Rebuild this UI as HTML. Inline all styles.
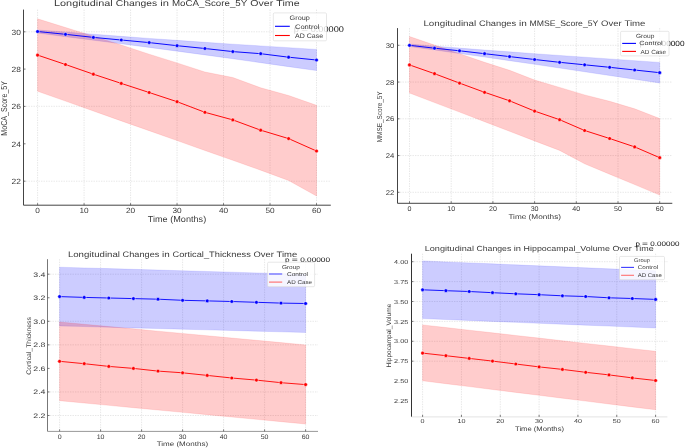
<!DOCTYPE html>
<html><head><meta charset="utf-8"><title>Longitudinal Changes</title>
<style>
html,body{margin:0;padding:0;background:#fff;width:685px;height:448px;overflow:hidden;}
svg{display:block;filter:blur(0.35px);}
text{font-family:"Liberation Sans",sans-serif;text-rendering:geometricPrecision;}
</style></head><body>
<svg width="685" height="448" viewBox="0 0 685 448">
<rect width="685" height="448" fill="#fff"/>
<path d="M37.6 9.6V205.2M84.08 9.6V205.2M130.57 9.6V205.2M177.05 9.6V205.2M223.53 9.6V205.2M270.02 9.6V205.2M316.5 9.6V205.2M23.5 31.8H330.8M23.5 106.3H330.8M23.5 181.2H330.8" stroke="#dfdfdf" stroke-width="0.75" stroke-dasharray="1.4 1.1" fill="none"/>
<polygon points="37.6,30 65.49,32.05 93.38,34.2 121.27,36.35 149.16,38.4 177.05,40.35 204.94,42.3 232.83,44.15 260.72,45.9 288.61,47.65 316.5,49.4 316.5,70.6 288.61,66.65 260.72,62.7 232.83,58.75 204.94,54.9 177.05,51.15 149.16,47.4 121.27,43.75 93.38,40.2 65.49,36.65 37.6,33" fill="#0000ff" fill-opacity="0.2" stroke="#0000ff" stroke-opacity="0.2" stroke-width="0.5"/>
<polygon points="37.6,18.8 65.49,27.5 93.38,36.2 121.27,45 149.16,54.2 177.05,62.9 204.94,72 232.83,77.5 260.72,87.8 288.61,95.5 316.5,105.3 316.5,196 288.61,180.5 260.72,170.2 232.83,160.3 204.94,150.5 177.05,140.6 149.16,130.7 121.27,120.9 93.38,111 65.49,101.1 37.6,91.25" fill="#ff0000" fill-opacity="0.2" stroke="#ff0000" stroke-opacity="0.2" stroke-width="0.5"/>
<polyline points="37.6,31.5 65.49,34.3 93.38,37.4 121.27,40 149.16,42.6 177.05,45.7 204.94,48.5 232.83,51.6 260.72,53.7 288.61,57.2 316.5,60" fill="none" stroke="#0000ff" stroke-width="0.95" stroke-linejoin="round"/>
<circle cx="37.6" cy="31.5" r="1.85" fill="#0000ff" stroke="#fff" stroke-width="0.45"/>
<circle cx="65.49" cy="34.3" r="1.85" fill="#0000ff" stroke="#fff" stroke-width="0.45"/>
<circle cx="93.38" cy="37.4" r="1.85" fill="#0000ff" stroke="#fff" stroke-width="0.45"/>
<circle cx="121.27" cy="40" r="1.85" fill="#0000ff" stroke="#fff" stroke-width="0.45"/>
<circle cx="149.16" cy="42.6" r="1.85" fill="#0000ff" stroke="#fff" stroke-width="0.45"/>
<circle cx="177.05" cy="45.7" r="1.85" fill="#0000ff" stroke="#fff" stroke-width="0.45"/>
<circle cx="204.94" cy="48.5" r="1.85" fill="#0000ff" stroke="#fff" stroke-width="0.45"/>
<circle cx="232.83" cy="51.6" r="1.85" fill="#0000ff" stroke="#fff" stroke-width="0.45"/>
<circle cx="260.72" cy="53.7" r="1.85" fill="#0000ff" stroke="#fff" stroke-width="0.45"/>
<circle cx="288.61" cy="57.2" r="1.85" fill="#0000ff" stroke="#fff" stroke-width="0.45"/>
<circle cx="316.5" cy="60" r="1.85" fill="#0000ff" stroke="#fff" stroke-width="0.45"/>
<polyline points="37.6,55.1 65.49,64.5 93.38,74.2 121.27,83.4 149.16,92.5 177.05,101.7 204.94,112.3 232.83,119.9 260.72,130.2 288.61,138.6 316.5,151" fill="none" stroke="#ff0000" stroke-width="0.95" stroke-linejoin="round"/>
<circle cx="37.6" cy="55.1" r="1.85" fill="#ff0000" stroke="#fff" stroke-width="0.45"/>
<circle cx="65.49" cy="64.5" r="1.85" fill="#ff0000" stroke="#fff" stroke-width="0.45"/>
<circle cx="93.38" cy="74.2" r="1.85" fill="#ff0000" stroke="#fff" stroke-width="0.45"/>
<circle cx="121.27" cy="83.4" r="1.85" fill="#ff0000" stroke="#fff" stroke-width="0.45"/>
<circle cx="149.16" cy="92.5" r="1.85" fill="#ff0000" stroke="#fff" stroke-width="0.45"/>
<circle cx="177.05" cy="101.7" r="1.85" fill="#ff0000" stroke="#fff" stroke-width="0.45"/>
<circle cx="204.94" cy="112.3" r="1.85" fill="#ff0000" stroke="#fff" stroke-width="0.45"/>
<circle cx="232.83" cy="119.9" r="1.85" fill="#ff0000" stroke="#fff" stroke-width="0.45"/>
<circle cx="260.72" cy="130.2" r="1.85" fill="#ff0000" stroke="#fff" stroke-width="0.45"/>
<circle cx="288.61" cy="138.6" r="1.85" fill="#ff0000" stroke="#fff" stroke-width="0.45"/>
<circle cx="316.5" cy="151" r="1.85" fill="#ff0000" stroke="#fff" stroke-width="0.45"/>
<path d="M23.5 9.6V205.2" stroke="#444" stroke-width="1"/>
<path d="M23.5 205.2H330.8" stroke="#444" stroke-width="1"/>
<path d="M23.5 31.8h2M23.5 69.1h2M23.5 106.4h2M23.5 143.8h2M23.5 181.2h2M37.6 205.2v-2M84.08 205.2v-2M130.57 205.2v-2M177.05 205.2v-2M223.53 205.2v-2M270.02 205.2v-2M316.5 205.2v-2" stroke="#555" stroke-width="0.8"/>
<text x="21" y="34.5" font-size="7.7" text-anchor="end" fill="#3a3a3a" textLength="9.4" lengthAdjust="spacingAndGlyphs">30</text>
<text x="21" y="71.8" font-size="7.7" text-anchor="end" fill="#3a3a3a" textLength="9.4" lengthAdjust="spacingAndGlyphs">28</text>
<text x="21" y="109.1" font-size="7.7" text-anchor="end" fill="#3a3a3a" textLength="9.4" lengthAdjust="spacingAndGlyphs">26</text>
<text x="21" y="146.5" font-size="7.7" text-anchor="end" fill="#3a3a3a" textLength="9.4" lengthAdjust="spacingAndGlyphs">24</text>
<text x="21" y="183.9" font-size="7.7" text-anchor="end" fill="#3a3a3a" textLength="9.4" lengthAdjust="spacingAndGlyphs">22</text>
<text x="37.6" y="212.8" font-size="7.6" text-anchor="middle" fill="#3a3a3a" textLength="4.6" lengthAdjust="spacingAndGlyphs">0</text>
<text x="84.08" y="212.8" font-size="7.6" text-anchor="middle" fill="#3a3a3a" textLength="9.2" lengthAdjust="spacingAndGlyphs">10</text>
<text x="130.57" y="212.8" font-size="7.6" text-anchor="middle" fill="#3a3a3a" textLength="9.2" lengthAdjust="spacingAndGlyphs">20</text>
<text x="177.05" y="212.8" font-size="7.6" text-anchor="middle" fill="#3a3a3a" textLength="9.2" lengthAdjust="spacingAndGlyphs">30</text>
<text x="223.53" y="212.8" font-size="7.6" text-anchor="middle" fill="#3a3a3a" textLength="9.2" lengthAdjust="spacingAndGlyphs">40</text>
<text x="270.02" y="212.8" font-size="7.6" text-anchor="middle" fill="#3a3a3a" textLength="9.2" lengthAdjust="spacingAndGlyphs">50</text>
<text x="316.5" y="212.8" font-size="7.6" text-anchor="middle" fill="#3a3a3a" textLength="9.2" lengthAdjust="spacingAndGlyphs">60</text>
<text x="147.82" y="221.9" font-size="8.6" text-anchor="start" fill="#3a3a3a" textLength="19.84" lengthAdjust="spacingAndGlyphs">Time</text><text x="170.24" y="221.9" font-size="8.6" text-anchor="start" fill="#3a3a3a" textLength="35.96" lengthAdjust="spacingAndGlyphs">(Months)</text>
<text transform="translate(6.7 108.35) rotate(-90)" x="0" y="0" font-size="8.6" text-anchor="middle" fill="#3a3a3a" textLength="54.7" lengthAdjust="spacingAndGlyphs">MoCA_Score_5Y</text>
<text x="54" y="6.2" font-size="8.6" text-anchor="start" fill="#3a3a3a" textLength="58.72" lengthAdjust="spacingAndGlyphs">Longitudinal</text><text x="115.75" y="6.2" font-size="8.6" text-anchor="start" fill="#3a3a3a" textLength="41.46" lengthAdjust="spacingAndGlyphs">Changes</text><text x="160.23" y="6.2" font-size="8.6" text-anchor="start" fill="#3a3a3a" textLength="8.69" lengthAdjust="spacingAndGlyphs">in</text><text x="171.95" y="6.2" font-size="8.6" text-anchor="start" fill="#3a3a3a" textLength="75.34" lengthAdjust="spacingAndGlyphs">MoCA_Score_5Y</text><text x="250.32" y="6.2" font-size="8.6" text-anchor="start" fill="#3a3a3a" textLength="22.92" lengthAdjust="spacingAndGlyphs">Over</text><text x="276.28" y="6.2" font-size="8.6" text-anchor="start" fill="#3a3a3a" textLength="23.32" lengthAdjust="spacingAndGlyphs">Time</text>
<text x="293.7" y="32.1" font-size="8.4" text-anchor="start" fill="#111" textLength="5.1" lengthAdjust="spacingAndGlyphs">p</text><text x="301.36" y="32.1" font-size="8.4" text-anchor="start" fill="#111" textLength="6.74" lengthAdjust="spacingAndGlyphs">=</text><text x="310.65" y="32.1" font-size="8.4" text-anchor="start" fill="#111" textLength="33.25" lengthAdjust="spacingAndGlyphs">0.00000</text>
<rect x="273.3" y="12.9" width="53.2" height="27.9" rx="1.2" fill="#fff" fill-opacity="0.8" stroke="#d6d6d6" stroke-width="0.6"/>
<text x="289.6" y="20.4" font-size="6.6" text-anchor="start" fill="#3a3a3a" textLength="20.2" lengthAdjust="spacingAndGlyphs">Group</text>
<path d="M275 26.3H289.8" stroke="#0000ff" stroke-width="1.1"/>
<path d="M275 35.5H289.8" stroke="#ff0000" stroke-width="1.1"/>
<text x="294.9" y="28.6" font-size="6.6" text-anchor="start" fill="#3a3a3a" textLength="24.5" lengthAdjust="spacingAndGlyphs">Control</text>
<text x="295.1" y="37.8" font-size="6.6" text-anchor="start" fill="#3a3a3a" textLength="28" lengthAdjust="spacingAndGlyphs">AD Case</text>
<path d="M409.5 28.1V203.3M451.2 28.1V203.3M492.9 28.1V203.3M534.6 28.1V203.3M576.3 28.1V203.3M618 28.1V203.3M659.7 28.1V203.3M397.5 45.3H672.3M397.5 82.05H672.3M397.5 118.8H672.3M397.5 155.55H672.3M397.5 192.3H672.3" stroke="#dfdfdf" stroke-width="0.75" stroke-dasharray="1.4 1.1" fill="none"/>
<polygon points="409.5,44.1 434.52,46.14 459.54,48.08 484.56,50.02 509.58,51.86 534.6,53.7 559.62,55.44 584.64,57.18 609.66,58.92 634.68,60.66 659.7,62.4 659.7,83 634.68,79.26 609.66,75.52 584.64,71.78 559.62,68.04 534.6,64.3 509.58,60.66 484.56,57.02 459.54,53.48 434.52,49.94 409.5,46.5" fill="#0000ff" fill-opacity="0.2" stroke="#0000ff" stroke-opacity="0.2" stroke-width="0.5"/>
<polygon points="409.5,36.5 434.52,45.1 459.54,53.7 484.56,62.3 509.58,70.3 534.6,80 559.62,87.4 584.64,94.9 609.66,101.3 634.68,108.8 659.7,118.5 659.7,195.1 634.68,184.6 609.66,174.2 584.64,163.8 559.62,150.4 534.6,140.9 509.58,131.3 484.56,121.7 459.54,112.1 434.52,102.6 409.5,93" fill="#ff0000" fill-opacity="0.2" stroke="#ff0000" stroke-opacity="0.2" stroke-width="0.5"/>
<polyline points="409.5,45.3 434.52,48.2 459.54,50.8 484.56,53.7 509.58,56.6 534.6,59.5 559.62,62.3 584.64,64.8 609.66,67.3 634.68,70 659.7,72.7" fill="none" stroke="#0000ff" stroke-width="0.95" stroke-linejoin="round"/>
<circle cx="409.5" cy="45.3" r="1.85" fill="#0000ff" stroke="#fff" stroke-width="0.45"/>
<circle cx="434.52" cy="48.2" r="1.85" fill="#0000ff" stroke="#fff" stroke-width="0.45"/>
<circle cx="459.54" cy="50.8" r="1.85" fill="#0000ff" stroke="#fff" stroke-width="0.45"/>
<circle cx="484.56" cy="53.7" r="1.85" fill="#0000ff" stroke="#fff" stroke-width="0.45"/>
<circle cx="509.58" cy="56.6" r="1.85" fill="#0000ff" stroke="#fff" stroke-width="0.45"/>
<circle cx="534.6" cy="59.5" r="1.85" fill="#0000ff" stroke="#fff" stroke-width="0.45"/>
<circle cx="559.62" cy="62.3" r="1.85" fill="#0000ff" stroke="#fff" stroke-width="0.45"/>
<circle cx="584.64" cy="64.8" r="1.85" fill="#0000ff" stroke="#fff" stroke-width="0.45"/>
<circle cx="609.66" cy="67.3" r="1.85" fill="#0000ff" stroke="#fff" stroke-width="0.45"/>
<circle cx="634.68" cy="70" r="1.85" fill="#0000ff" stroke="#fff" stroke-width="0.45"/>
<circle cx="659.7" cy="72.7" r="1.85" fill="#0000ff" stroke="#fff" stroke-width="0.45"/>
<polyline points="409.5,64.9 434.52,73.7 459.54,83.1 484.56,92.3 509.58,100.8 534.6,111.1 559.62,119.7 584.64,130.5 609.66,138.5 634.68,146.9 659.7,157.7" fill="none" stroke="#ff0000" stroke-width="0.95" stroke-linejoin="round"/>
<circle cx="409.5" cy="64.9" r="1.85" fill="#ff0000" stroke="#fff" stroke-width="0.45"/>
<circle cx="434.52" cy="73.7" r="1.85" fill="#ff0000" stroke="#fff" stroke-width="0.45"/>
<circle cx="459.54" cy="83.1" r="1.85" fill="#ff0000" stroke="#fff" stroke-width="0.45"/>
<circle cx="484.56" cy="92.3" r="1.85" fill="#ff0000" stroke="#fff" stroke-width="0.45"/>
<circle cx="509.58" cy="100.8" r="1.85" fill="#ff0000" stroke="#fff" stroke-width="0.45"/>
<circle cx="534.6" cy="111.1" r="1.85" fill="#ff0000" stroke="#fff" stroke-width="0.45"/>
<circle cx="559.62" cy="119.7" r="1.85" fill="#ff0000" stroke="#fff" stroke-width="0.45"/>
<circle cx="584.64" cy="130.5" r="1.85" fill="#ff0000" stroke="#fff" stroke-width="0.45"/>
<circle cx="609.66" cy="138.5" r="1.85" fill="#ff0000" stroke="#fff" stroke-width="0.45"/>
<circle cx="634.68" cy="146.9" r="1.85" fill="#ff0000" stroke="#fff" stroke-width="0.45"/>
<circle cx="659.7" cy="157.7" r="1.85" fill="#ff0000" stroke="#fff" stroke-width="0.45"/>
<path d="M397.5 28.1V203.3" stroke="#444" stroke-width="1"/>
<path d="M397.5 203.3H672.3" stroke="#444" stroke-width="1"/>
<path d="M397.5 45.3h2M397.5 82.05h2M397.5 118.8h2M397.5 155.55h2M397.5 192.3h2M409.5 203.3v-2M451.2 203.3v-2M492.9 203.3v-2M534.6 203.3v-2M576.3 203.3v-2M618 203.3v-2M659.7 203.3v-2" stroke="#555" stroke-width="0.8"/>
<text x="394.4" y="47.8" font-size="6.9" text-anchor="end" fill="#3a3a3a" textLength="8.6" lengthAdjust="spacingAndGlyphs">30</text>
<text x="394.4" y="84.55" font-size="6.9" text-anchor="end" fill="#3a3a3a" textLength="8.6" lengthAdjust="spacingAndGlyphs">28</text>
<text x="394.4" y="121.3" font-size="6.9" text-anchor="end" fill="#3a3a3a" textLength="8.6" lengthAdjust="spacingAndGlyphs">26</text>
<text x="394.4" y="158.05" font-size="6.9" text-anchor="end" fill="#3a3a3a" textLength="8.6" lengthAdjust="spacingAndGlyphs">24</text>
<text x="394.4" y="194.8" font-size="6.9" text-anchor="end" fill="#3a3a3a" textLength="8.6" lengthAdjust="spacingAndGlyphs">22</text>
<text x="409.5" y="210.7" font-size="6.9" text-anchor="middle" fill="#3a3a3a" textLength="3.95" lengthAdjust="spacingAndGlyphs">0</text>
<text x="451.2" y="210.7" font-size="6.9" text-anchor="middle" fill="#3a3a3a" textLength="7.9" lengthAdjust="spacingAndGlyphs">10</text>
<text x="492.9" y="210.7" font-size="6.9" text-anchor="middle" fill="#3a3a3a" textLength="7.9" lengthAdjust="spacingAndGlyphs">20</text>
<text x="534.6" y="210.7" font-size="6.9" text-anchor="middle" fill="#3a3a3a" textLength="7.9" lengthAdjust="spacingAndGlyphs">30</text>
<text x="576.3" y="210.7" font-size="6.9" text-anchor="middle" fill="#3a3a3a" textLength="7.9" lengthAdjust="spacingAndGlyphs">40</text>
<text x="618" y="210.7" font-size="6.9" text-anchor="middle" fill="#3a3a3a" textLength="7.9" lengthAdjust="spacingAndGlyphs">50</text>
<text x="659.7" y="210.7" font-size="6.9" text-anchor="middle" fill="#3a3a3a" textLength="7.9" lengthAdjust="spacingAndGlyphs">60</text>
<text x="508.42" y="218.7" font-size="6.8" text-anchor="start" fill="#3a3a3a" textLength="17.87" lengthAdjust="spacingAndGlyphs">Time</text><text x="528.61" y="218.7" font-size="6.8" text-anchor="start" fill="#3a3a3a" textLength="32.39" lengthAdjust="spacingAndGlyphs">(Months)</text>
<text transform="translate(382.3 116.85) rotate(-90)" x="0" y="0" font-size="7.2" text-anchor="middle" fill="#3a3a3a" textLength="50.9" lengthAdjust="spacingAndGlyphs">MMSE_Score_5Y</text>
<text x="423.4" y="25.7" font-size="8" text-anchor="start" fill="#3a3a3a" textLength="52.8" lengthAdjust="spacingAndGlyphs">Longitudinal</text><text x="478.92" y="25.7" font-size="8" text-anchor="start" fill="#3a3a3a" textLength="37.28" lengthAdjust="spacingAndGlyphs">Changes</text><text x="518.92" y="25.7" font-size="8" text-anchor="start" fill="#3a3a3a" textLength="7.81" lengthAdjust="spacingAndGlyphs">in</text><text x="529.46" y="25.7" font-size="8" text-anchor="start" fill="#3a3a3a" textLength="68.91" lengthAdjust="spacingAndGlyphs">MMSE_Score_5Y</text><text x="601.09" y="25.7" font-size="8" text-anchor="start" fill="#3a3a3a" textLength="20.61" lengthAdjust="spacingAndGlyphs">Over</text><text x="624.43" y="25.7" font-size="8" text-anchor="start" fill="#3a3a3a" textLength="20.97" lengthAdjust="spacingAndGlyphs">Time</text>
<text x="639.5" y="46" font-size="7.4" text-anchor="start" fill="#111" textLength="4.58" lengthAdjust="spacingAndGlyphs">p</text><text x="646.37" y="46" font-size="7.4" text-anchor="start" fill="#111" textLength="6.04" lengthAdjust="spacingAndGlyphs">=</text><text x="654.7" y="46" font-size="7.4" text-anchor="start" fill="#111" textLength="29.81" lengthAdjust="spacingAndGlyphs">0.00000</text>
<rect x="620.6" y="31.3" width="48.4" height="24.6" rx="1.2" fill="#fff" fill-opacity="0.8" stroke="#d6d6d6" stroke-width="0.6"/>
<text x="636" y="37.8" font-size="6" text-anchor="start" fill="#3a3a3a" textLength="18.3" lengthAdjust="spacingAndGlyphs">Group</text>
<path d="M622.2 43.4H636" stroke="#0000ff" stroke-width="1.1"/>
<path d="M622.2 51.4H636" stroke="#ff0000" stroke-width="1.1"/>
<text x="639.3" y="45.3" font-size="6" text-anchor="start" fill="#3a3a3a" textLength="23.2" lengthAdjust="spacingAndGlyphs">Control</text>
<text x="640.5" y="53.8" font-size="6" text-anchor="start" fill="#3a3a3a" textLength="25.6" lengthAdjust="spacingAndGlyphs">AD Case</text>
<path d="M59.6 259.2V431.4M100.6 259.2V431.4M141.6 259.2V431.4M182.6 259.2V431.4M223.6 259.2V431.4M264.6 259.2V431.4M305.6 259.2V431.4M47.5 274.2H318M47.5 321.3H318M47.5 344.85H318M47.5 391.95H318M47.5 415.5H318" stroke="#dfdfdf" stroke-width="0.75" stroke-dasharray="1.4 1.1" fill="none"/>
<polygon points="59.6,267.2 84.2,267.91 108.8,268.62 133.4,269.33 158,270.04 182.6,270.75 207.2,271.46 231.8,272.17 256.4,272.88 281,273.59 305.6,274.3 305.6,332.5 281,331.84 256.4,331.18 231.8,330.52 207.2,329.86 182.6,329.2 158,328.54 133.4,327.88 108.8,327.22 84.2,326.56 59.6,325.9" fill="#0000ff" fill-opacity="0.2" stroke="#0000ff" stroke-opacity="0.2" stroke-width="0.5"/>
<polygon points="59.6,322 84.2,324.29 108.8,326.58 133.4,328.87 158,331.16 182.6,333.45 207.2,335.74 231.8,338.03 256.4,340.32 281,342.61 305.6,344.9 305.6,424 281,421.67 256.4,419.34 231.8,417.01 207.2,414.68 182.6,412.35 158,410.02 133.4,407.69 108.8,405.36 84.2,403.03 59.6,400.7" fill="#ff0000" fill-opacity="0.2" stroke="#ff0000" stroke-opacity="0.2" stroke-width="0.5"/>
<polyline points="59.6,296.6 84.2,297.4 108.8,298 133.4,298.6 158,299.2 182.6,300.3 207.2,300.9 231.8,301.5 256.4,302.3 281,303.1 305.6,303.5" fill="none" stroke="#0000ff" stroke-width="0.9" stroke-linejoin="round"/>
<circle cx="59.6" cy="296.6" r="1.85" fill="#0000ff" stroke="#fff" stroke-width="0.45"/>
<circle cx="84.2" cy="297.4" r="1.85" fill="#0000ff" stroke="#fff" stroke-width="0.45"/>
<circle cx="108.8" cy="298" r="1.85" fill="#0000ff" stroke="#fff" stroke-width="0.45"/>
<circle cx="133.4" cy="298.6" r="1.85" fill="#0000ff" stroke="#fff" stroke-width="0.45"/>
<circle cx="158" cy="299.2" r="1.85" fill="#0000ff" stroke="#fff" stroke-width="0.45"/>
<circle cx="182.6" cy="300.3" r="1.85" fill="#0000ff" stroke="#fff" stroke-width="0.45"/>
<circle cx="207.2" cy="300.9" r="1.85" fill="#0000ff" stroke="#fff" stroke-width="0.45"/>
<circle cx="231.8" cy="301.5" r="1.85" fill="#0000ff" stroke="#fff" stroke-width="0.45"/>
<circle cx="256.4" cy="302.3" r="1.85" fill="#0000ff" stroke="#fff" stroke-width="0.45"/>
<circle cx="281" cy="303.1" r="1.85" fill="#0000ff" stroke="#fff" stroke-width="0.45"/>
<circle cx="305.6" cy="303.5" r="1.85" fill="#0000ff" stroke="#fff" stroke-width="0.45"/>
<polyline points="59.6,361.3 84.2,363.7 108.8,366.4 133.4,368.4 158,371.1 182.6,372.8 207.2,375.4 231.8,378 256.4,380.1 281,382.7 305.6,384.6" fill="none" stroke="#ff0000" stroke-width="0.9" stroke-linejoin="round"/>
<circle cx="59.6" cy="361.3" r="1.85" fill="#ff0000" stroke="#fff" stroke-width="0.45"/>
<circle cx="84.2" cy="363.7" r="1.85" fill="#ff0000" stroke="#fff" stroke-width="0.45"/>
<circle cx="108.8" cy="366.4" r="1.85" fill="#ff0000" stroke="#fff" stroke-width="0.45"/>
<circle cx="133.4" cy="368.4" r="1.85" fill="#ff0000" stroke="#fff" stroke-width="0.45"/>
<circle cx="158" cy="371.1" r="1.85" fill="#ff0000" stroke="#fff" stroke-width="0.45"/>
<circle cx="182.6" cy="372.8" r="1.85" fill="#ff0000" stroke="#fff" stroke-width="0.45"/>
<circle cx="207.2" cy="375.4" r="1.85" fill="#ff0000" stroke="#fff" stroke-width="0.45"/>
<circle cx="231.8" cy="378" r="1.85" fill="#ff0000" stroke="#fff" stroke-width="0.45"/>
<circle cx="256.4" cy="380.1" r="1.85" fill="#ff0000" stroke="#fff" stroke-width="0.45"/>
<circle cx="281" cy="382.7" r="1.85" fill="#ff0000" stroke="#fff" stroke-width="0.45"/>
<circle cx="305.6" cy="384.6" r="1.85" fill="#ff0000" stroke="#fff" stroke-width="0.45"/>
<path d="M47.5 259.2V431.4" stroke="#777" stroke-width="1"/>
<path d="M47.5 431.4H318" stroke="#999" stroke-width="1"/>
<path d="M47.5 274.2h2M47.5 297.75h2M47.5 321.3h2M47.5 344.85h2M47.5 368.4h2M47.5 391.95h2M47.5 415.5h2M59.6 431.4v-2M100.6 431.4v-2M141.6 431.4v-2M182.6 431.4v-2M223.6 431.4v-2M264.6 431.4v-2M305.6 431.4v-2" stroke="#555" stroke-width="0.8"/>
<text x="45.5" y="276.5" font-size="6.5" text-anchor="end" fill="#3a3a3a" textLength="12.2" lengthAdjust="spacingAndGlyphs">3.4</text>
<text x="45.5" y="300.05" font-size="6.5" text-anchor="end" fill="#3a3a3a" textLength="12.2" lengthAdjust="spacingAndGlyphs">3.2</text>
<text x="45.5" y="323.6" font-size="6.5" text-anchor="end" fill="#3a3a3a" textLength="12.2" lengthAdjust="spacingAndGlyphs">3.0</text>
<text x="45.5" y="347.15" font-size="6.5" text-anchor="end" fill="#3a3a3a" textLength="12.2" lengthAdjust="spacingAndGlyphs">2.8</text>
<text x="45.5" y="370.7" font-size="6.5" text-anchor="end" fill="#3a3a3a" textLength="12.2" lengthAdjust="spacingAndGlyphs">2.6</text>
<text x="45.5" y="394.25" font-size="6.5" text-anchor="end" fill="#3a3a3a" textLength="12.2" lengthAdjust="spacingAndGlyphs">2.4</text>
<text x="45.5" y="417.8" font-size="6.5" text-anchor="end" fill="#3a3a3a" textLength="12.2" lengthAdjust="spacingAndGlyphs">2.2</text>
<text x="59.6" y="439.1" font-size="6.5" text-anchor="middle" fill="#3a3a3a" textLength="3.9" lengthAdjust="spacingAndGlyphs">0</text>
<text x="100.6" y="439.1" font-size="6.5" text-anchor="middle" fill="#3a3a3a" textLength="7.8" lengthAdjust="spacingAndGlyphs">10</text>
<text x="141.6" y="439.1" font-size="6.5" text-anchor="middle" fill="#3a3a3a" textLength="7.8" lengthAdjust="spacingAndGlyphs">20</text>
<text x="182.6" y="439.1" font-size="6.5" text-anchor="middle" fill="#3a3a3a" textLength="7.8" lengthAdjust="spacingAndGlyphs">30</text>
<text x="223.6" y="439.1" font-size="6.5" text-anchor="middle" fill="#3a3a3a" textLength="7.8" lengthAdjust="spacingAndGlyphs">40</text>
<text x="264.6" y="439.1" font-size="6.5" text-anchor="middle" fill="#3a3a3a" textLength="7.8" lengthAdjust="spacingAndGlyphs">50</text>
<text x="305.6" y="439.1" font-size="6.5" text-anchor="middle" fill="#3a3a3a" textLength="7.8" lengthAdjust="spacingAndGlyphs">60</text>
<text x="156.72" y="446.3" font-size="6.4" text-anchor="start" fill="#3a3a3a" textLength="17.46" lengthAdjust="spacingAndGlyphs">Time</text><text x="176.45" y="446.3" font-size="6.4" text-anchor="start" fill="#3a3a3a" textLength="31.65" lengthAdjust="spacingAndGlyphs">(Months)</text>
<text transform="translate(30.5 345.95) rotate(-90)" x="0" y="0" font-size="6.6" text-anchor="middle" fill="#3a3a3a" textLength="57.7" lengthAdjust="spacingAndGlyphs">Cortical_Thickness</text>
<text x="67.9" y="256.7" font-size="7.9" text-anchor="start" fill="#3a3a3a" textLength="52.05" lengthAdjust="spacingAndGlyphs">Longitudinal</text><text x="122.64" y="256.7" font-size="7.9" text-anchor="start" fill="#3a3a3a" textLength="36.75" lengthAdjust="spacingAndGlyphs">Changes</text><text x="162.08" y="256.7" font-size="7.9" text-anchor="start" fill="#3a3a3a" textLength="7.7" lengthAdjust="spacingAndGlyphs">in</text><text x="172.47" y="256.7" font-size="7.9" text-anchor="start" fill="#3a3a3a" textLength="78.36" lengthAdjust="spacingAndGlyphs">Cortical_Thickness</text><text x="253.51" y="256.7" font-size="7.9" text-anchor="start" fill="#3a3a3a" textLength="20.32" lengthAdjust="spacingAndGlyphs">Over</text><text x="276.52" y="256.7" font-size="7.9" text-anchor="start" fill="#3a3a3a" textLength="20.68" lengthAdjust="spacingAndGlyphs">Time</text>
<text x="285" y="262.2" font-size="6.6" text-anchor="start" fill="#111" textLength="4.58" lengthAdjust="spacingAndGlyphs">p</text><text x="291.87" y="262.2" font-size="6.6" text-anchor="start" fill="#111" textLength="6.04" lengthAdjust="spacingAndGlyphs">=</text><text x="300.2" y="262.2" font-size="6.6" text-anchor="start" fill="#111" textLength="29.81" lengthAdjust="spacingAndGlyphs">0.00000</text>
<rect x="267.6" y="262.2" width="47" height="24.5" rx="1.2" fill="#fff" fill-opacity="0.8" stroke="#d6d6d6" stroke-width="0.6"/>
<text x="281.9" y="268.6" font-size="5.6" text-anchor="start" fill="#3a3a3a" textLength="17.9" lengthAdjust="spacingAndGlyphs">Group</text>
<path d="M269 274H282.2" stroke="#5050ff" stroke-width="1.1"/>
<path d="M269 282.1H282.2" stroke="#ff6a6a" stroke-width="1.1"/>
<text x="287" y="275.7" font-size="5.6" text-anchor="start" fill="#3a3a3a" textLength="21" lengthAdjust="spacingAndGlyphs">Control</text>
<text x="287" y="283.7" font-size="5.6" text-anchor="start" fill="#3a3a3a" textLength="25.1" lengthAdjust="spacingAndGlyphs">AD Case</text>
<path d="M422.6 253.7V416.9M461.43 253.7V416.9M500.27 253.7V416.9M539.1 253.7V416.9M577.93 253.7V416.9M616.77 253.7V416.9M655.6 253.7V416.9M411.5 261.7H667.4M411.5 281.6H667.4M411.5 301.5H667.4M411.5 321.4H667.4M411.5 341.3H667.4M411.5 361.2H667.4" stroke="#dfdfdf" stroke-width="0.75" stroke-dasharray="1.4 1.1" fill="none"/>
<polygon points="422.6,260.9 445.9,261.89 469.2,262.88 492.5,263.87 515.8,264.86 539.1,265.85 562.4,266.84 585.7,267.83 609,268.82 632.3,269.81 655.6,270.8 655.6,328 632.3,327.06 609,326.12 585.7,325.18 562.4,324.24 539.1,323.3 515.8,322.36 492.5,321.42 469.2,320.48 445.9,319.54 422.6,318.6" fill="#0000ff" fill-opacity="0.2" stroke="#0000ff" stroke-opacity="0.2" stroke-width="0.5"/>
<polygon points="422.6,324.9 445.9,327.54 469.2,330.18 492.5,332.82 515.8,335.46 539.1,338.1 562.4,340.74 585.7,343.38 609,346.02 632.3,348.66 655.6,351.3 655.6,409.8 632.3,406.9 609,404 585.7,401.1 562.4,398.2 539.1,395.3 515.8,392.4 492.5,389.5 469.2,386.6 445.9,383.7 422.6,380.8" fill="#ff0000" fill-opacity="0.2" stroke="#ff0000" stroke-opacity="0.2" stroke-width="0.5"/>
<polyline points="422.6,289.8 445.9,290.7 469.2,291.5 492.5,292.7 515.8,293.8 539.1,294.7 562.4,295.8 585.7,296.5 609,297.8 632.3,298.5 655.6,299.4" fill="none" stroke="#0000ff" stroke-width="0.9" stroke-linejoin="round"/>
<circle cx="422.6" cy="289.8" r="1.85" fill="#0000ff" stroke="#fff" stroke-width="0.45"/>
<circle cx="445.9" cy="290.7" r="1.85" fill="#0000ff" stroke="#fff" stroke-width="0.45"/>
<circle cx="469.2" cy="291.5" r="1.85" fill="#0000ff" stroke="#fff" stroke-width="0.45"/>
<circle cx="492.5" cy="292.7" r="1.85" fill="#0000ff" stroke="#fff" stroke-width="0.45"/>
<circle cx="515.8" cy="293.8" r="1.85" fill="#0000ff" stroke="#fff" stroke-width="0.45"/>
<circle cx="539.1" cy="294.7" r="1.85" fill="#0000ff" stroke="#fff" stroke-width="0.45"/>
<circle cx="562.4" cy="295.8" r="1.85" fill="#0000ff" stroke="#fff" stroke-width="0.45"/>
<circle cx="585.7" cy="296.5" r="1.85" fill="#0000ff" stroke="#fff" stroke-width="0.45"/>
<circle cx="609" cy="297.8" r="1.85" fill="#0000ff" stroke="#fff" stroke-width="0.45"/>
<circle cx="632.3" cy="298.5" r="1.85" fill="#0000ff" stroke="#fff" stroke-width="0.45"/>
<circle cx="655.6" cy="299.4" r="1.85" fill="#0000ff" stroke="#fff" stroke-width="0.45"/>
<polyline points="422.6,353.1 445.9,355.7 469.2,358.4 492.5,361.1 515.8,364 539.1,366.9 562.4,369.4 585.7,372.3 609,374.9 632.3,377.9 655.6,380.5" fill="none" stroke="#ff0000" stroke-width="0.9" stroke-linejoin="round"/>
<circle cx="422.6" cy="353.1" r="1.85" fill="#ff0000" stroke="#fff" stroke-width="0.45"/>
<circle cx="445.9" cy="355.7" r="1.85" fill="#ff0000" stroke="#fff" stroke-width="0.45"/>
<circle cx="469.2" cy="358.4" r="1.85" fill="#ff0000" stroke="#fff" stroke-width="0.45"/>
<circle cx="492.5" cy="361.1" r="1.85" fill="#ff0000" stroke="#fff" stroke-width="0.45"/>
<circle cx="515.8" cy="364" r="1.85" fill="#ff0000" stroke="#fff" stroke-width="0.45"/>
<circle cx="539.1" cy="366.9" r="1.85" fill="#ff0000" stroke="#fff" stroke-width="0.45"/>
<circle cx="562.4" cy="369.4" r="1.85" fill="#ff0000" stroke="#fff" stroke-width="0.45"/>
<circle cx="585.7" cy="372.3" r="1.85" fill="#ff0000" stroke="#fff" stroke-width="0.45"/>
<circle cx="609" cy="374.9" r="1.85" fill="#ff0000" stroke="#fff" stroke-width="0.45"/>
<circle cx="632.3" cy="377.9" r="1.85" fill="#ff0000" stroke="#fff" stroke-width="0.45"/>
<circle cx="655.6" cy="380.5" r="1.85" fill="#ff0000" stroke="#fff" stroke-width="0.45"/>
<path d="M411.5 253.7V416.9" stroke="#333" stroke-width="1"/>
<path d="M411.5 416.9H667.4" stroke="#e3e3e3" stroke-width="1"/>
<path d="M411.5 261.7h2M411.5 281.6h2M411.5 301.5h2M411.5 321.4h2M411.5 341.3h2M411.5 361.2h2M422.6 416.9v-2M461.43 416.9v-2M500.27 416.9v-2M539.1 416.9v-2M577.93 416.9v-2M616.77 416.9v-2M655.6 416.9v-2" stroke="#555" stroke-width="0.8"/>
<text x="408.2" y="263.8" font-size="5.9" text-anchor="end" fill="#3a3a3a" textLength="14.1" lengthAdjust="spacingAndGlyphs">4.00</text>
<text x="408.2" y="283.7" font-size="5.9" text-anchor="end" fill="#3a3a3a" textLength="14.1" lengthAdjust="spacingAndGlyphs">3.75</text>
<text x="408.2" y="303.6" font-size="5.9" text-anchor="end" fill="#3a3a3a" textLength="14.1" lengthAdjust="spacingAndGlyphs">3.50</text>
<text x="408.2" y="323.5" font-size="5.9" text-anchor="end" fill="#3a3a3a" textLength="14.1" lengthAdjust="spacingAndGlyphs">3.25</text>
<text x="408.2" y="343.4" font-size="5.9" text-anchor="end" fill="#3a3a3a" textLength="14.1" lengthAdjust="spacingAndGlyphs">3.00</text>
<text x="408.2" y="363.3" font-size="5.9" text-anchor="end" fill="#3a3a3a" textLength="14.1" lengthAdjust="spacingAndGlyphs">2.75</text>
<text x="408.2" y="383.3" font-size="5.9" text-anchor="end" fill="#3a3a3a" textLength="14.1" lengthAdjust="spacingAndGlyphs">2.50</text>
<text x="408.2" y="403.2" font-size="5.9" text-anchor="end" fill="#3a3a3a" textLength="14.1" lengthAdjust="spacingAndGlyphs">2.25</text>
<text x="422.6" y="423.1" font-size="5.8" text-anchor="middle" fill="#3a3a3a" textLength="4" lengthAdjust="spacingAndGlyphs">0</text>
<text x="461.43" y="423.1" font-size="5.8" text-anchor="middle" fill="#3a3a3a" textLength="8" lengthAdjust="spacingAndGlyphs">10</text>
<text x="500.27" y="423.1" font-size="5.8" text-anchor="middle" fill="#3a3a3a" textLength="8" lengthAdjust="spacingAndGlyphs">20</text>
<text x="539.1" y="423.1" font-size="5.8" text-anchor="middle" fill="#3a3a3a" textLength="8" lengthAdjust="spacingAndGlyphs">30</text>
<text x="577.93" y="423.1" font-size="5.8" text-anchor="middle" fill="#3a3a3a" textLength="8" lengthAdjust="spacingAndGlyphs">40</text>
<text x="616.77" y="423.1" font-size="5.8" text-anchor="middle" fill="#3a3a3a" textLength="8" lengthAdjust="spacingAndGlyphs">50</text>
<text x="655.6" y="423.1" font-size="5.8" text-anchor="middle" fill="#3a3a3a" textLength="8" lengthAdjust="spacingAndGlyphs">60</text>
<text x="515.02" y="431" font-size="6.6" text-anchor="start" fill="#3a3a3a" textLength="16.65" lengthAdjust="spacingAndGlyphs">Time</text><text x="533.83" y="431" font-size="6.6" text-anchor="start" fill="#3a3a3a" textLength="30.17" lengthAdjust="spacingAndGlyphs">(Months)</text>
<text transform="translate(391 335.55) rotate(-90)" x="0" y="0" font-size="6.6" text-anchor="middle" fill="#3a3a3a" textLength="63.7" lengthAdjust="spacingAndGlyphs">Hippocampal_Volume</text>
<text x="424.7" y="250.6" font-size="7.4" text-anchor="start" fill="#3a3a3a" textLength="49.25" lengthAdjust="spacingAndGlyphs">Longitudinal</text><text x="476.49" y="250.6" font-size="7.4" text-anchor="start" fill="#3a3a3a" textLength="34.77" lengthAdjust="spacingAndGlyphs">Changes</text><text x="513.81" y="250.6" font-size="7.4" text-anchor="start" fill="#3a3a3a" textLength="7.29" lengthAdjust="spacingAndGlyphs">in</text><text x="523.64" y="250.6" font-size="7.4" text-anchor="start" fill="#3a3a3a" textLength="86.28" lengthAdjust="spacingAndGlyphs">Hippocampal_Volume</text><text x="612.47" y="250.6" font-size="7.4" text-anchor="start" fill="#3a3a3a" textLength="19.23" lengthAdjust="spacingAndGlyphs">Over</text><text x="634.24" y="250.6" font-size="7.4" text-anchor="start" fill="#3a3a3a" textLength="19.57" lengthAdjust="spacingAndGlyphs">Time</text>
<rect x="619.5" y="256.4" width="45" height="23.3" rx="1.2" fill="#fff" fill-opacity="0.8" stroke="#d6d6d6" stroke-width="0.6"/>
<text x="634" y="262.3" font-size="5.4" text-anchor="start" fill="#3a3a3a" textLength="16" lengthAdjust="spacingAndGlyphs">Group</text>
<path d="M621.1 267.4H634" stroke="#3a3aff" stroke-width="1.1"/>
<path d="M621.1 275.3H634" stroke="#ff7070" stroke-width="1.1"/>
<text x="637.7" y="269.4" font-size="5.4" text-anchor="start" fill="#3a3a3a" textLength="20.4" lengthAdjust="spacingAndGlyphs">Control</text>
<text x="637.7" y="276.9" font-size="5.4" text-anchor="start" fill="#3a3a3a" textLength="24.1" lengthAdjust="spacingAndGlyphs">AD Case</text>
<text x="635.4" y="245.9" font-size="6.6" text-anchor="start" fill="#111" textLength="4.47" lengthAdjust="spacingAndGlyphs">p</text><text x="642.11" y="245.9" font-size="6.6" text-anchor="start" fill="#111" textLength="5.9" lengthAdjust="spacingAndGlyphs">=</text><text x="650.26" y="245.9" font-size="6.6" text-anchor="start" fill="#111" textLength="29.14" lengthAdjust="spacingAndGlyphs">0.00000</text>
</svg>
</body></html>
